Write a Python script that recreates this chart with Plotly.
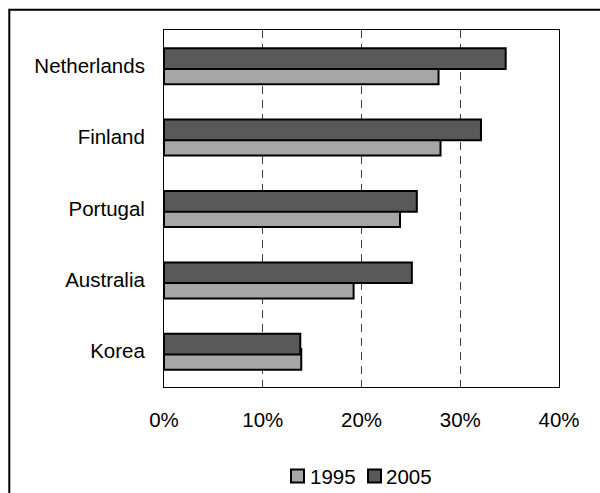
import plotly.graph_objects as go

# Share values by country (percent)
countries = ["Netherlands", "Finland", "Portugal", "Australia", "Korea"]
share_1995 = [27.8, 28.0, 23.9, 19.2, 13.9]
share_2005 = [34.6, 32.1, 25.6, 25.1, 13.8]
series_names = ["1995", "2005"]
x_ticks = [0, 10, 20, 30, 40]
x_tick_labels = [f"{v}%" for v in x_ticks]

W, H = 600, 493
L, R, T, B = 164, 41, 30, 106
PW, PH = W - L - R, H - T - B

FONT = "Liberation Sans, Arial, sans-serif"
FSIZE = 20.5
LIGHT = "#a6a6a6"
DARK = "#595959"


def px_x(px):
    return (px - L) / PW


def px_y(py):
    return 1 - (py - T) / PH


fig = go.Figure()
bar_w = 0.29
fig.add_trace(go.Bar(
    y=countries, x=share_1995, orientation="h", name=series_names[0],
    width=bar_w, offset=-0.031,
    marker=dict(color=LIGHT, line=dict(color="black", width=2)),
))
fig.add_trace(go.Bar(
    y=countries, x=share_2005, orientation="h", name=series_names[1],
    width=bar_w, offset=-0.245,
    marker=dict(color=DARK, line=dict(color="black", width=2)),
))

shapes = [
    # outer chart frame
    dict(type="rect", xref="paper", yref="paper",
         x0=px_x(9.3), x1=px_x(606), y0=px_y(9.7), y1=px_y(500),
         line=dict(color="black", width=2), fillcolor="rgba(0,0,0,0)",
         layer="above"),
]
annotations = []

# legend entries
legend_items = [
    (series_names[0], LIGHT, 290, 308),
    (series_names[1], DARK, 367, 384),
]
for name, color, sq_x, tx_x in legend_items:
    shapes.append(dict(
        type="rect", xref="paper", yref="paper",
        x0=px_x(sq_x + 1), x1=px_x(sq_x + 14), y0=px_y(469.5), y1=px_y(482.5),
        line=dict(color="black", width=2), fillcolor=color,
    ))
    annotations.append(dict(
        text=name, xref="paper", yref="paper", x=px_x(tx_x), y=px_y(476),
        xanchor="left", yanchor="middle", showarrow=False,
        font=dict(family=FONT, size=FSIZE, color="black"),
    ))

fig.update_layout(
    width=W, height=H,
    margin=dict(l=L, r=R, t=T, b=B),
    barmode="overlay",
    showlegend=False,
    paper_bgcolor="white", plot_bgcolor="white",
    font=dict(family=FONT, size=FSIZE, color="black"),
    shapes=shapes,
    annotations=annotations,
    xaxis=dict(
        range=[0, 40], tickvals=x_ticks, ticktext=x_tick_labels,
        showgrid=True, gridcolor="#404040", gridwidth=1, griddash="8px,6px",
        zeroline=False, showline=True, linecolor="black", linewidth=1,
        mirror=True, ticks="", ticklabelstandoff=14,
    ),
    yaxis=dict(
        range=[4.5, -0.5], showgrid=False, zeroline=False,
        showline=True, linecolor="black", linewidth=1, mirror=True,
        ticks="", ticklabelstandoff=14,
    ),
)

fig.write_html("out.html")
